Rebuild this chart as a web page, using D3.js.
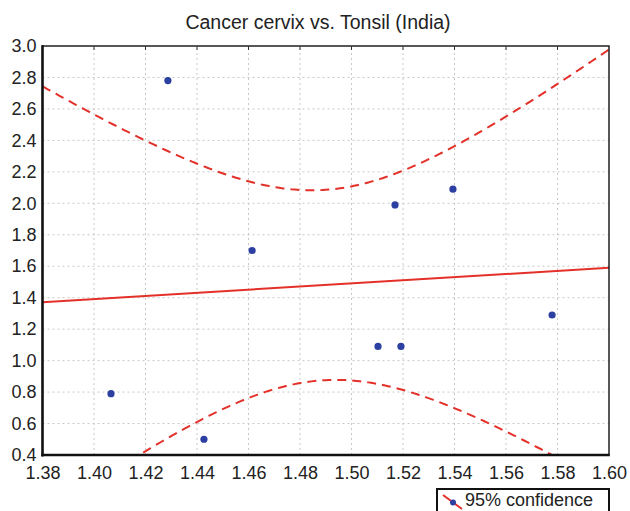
<!DOCTYPE html>
<html>
<head>
<meta charset="utf-8">
<script src="https://cdn.jsdelivr.net/npm/d3@7"></script>
<style>
  body { margin: 0; background: #fff; }
  svg { font-family: "Liberation Sans", Arial, sans-serif; }
</style>
</head>
<body>
<div id="chart"></div>
<script>
// scatter values
const tonsil = [1.4066, 1.4287, 1.4427, 1.4614, 1.5103, 1.5192, 1.5169, 1.5394, 1.5779];
const cervix = [0.79, 2.78, 0.50, 1.70, 1.09, 1.09, 1.99, 2.09, 1.29];
const xTicks = [1.38, 1.40, 1.42, 1.44, 1.46, 1.48, 1.50, 1.52, 1.54, 1.56, 1.58, 1.60];
const yTicks = [0.4, 0.6, 0.8, 1.0, 1.2, 1.4, 1.6, 1.8, 2.0, 2.2, 2.4, 2.6, 2.8, 3.0];
const tCrit = 2.365; // t(0.975, n-2 = 7)

const width = 630, height = 511;
const margin = {top: 46, right: 21, bottom: 56, left: 42.5};

const svg = d3.select('#chart').append('svg')
    .attr('width', width)
    .attr('height', height);

const x = d3.scaleLinear().domain([1.38, 1.60]).range([margin.left, width - margin.right]);
const y = d3.scaleLinear().domain([0.4, 3.0]).range([height - margin.bottom, margin.top]);

// title
svg.append('text')
    .attr('x', 318).attr('y', 29)
    .attr('text-anchor', 'middle')
    .attr('font-size', 19.5)
    .attr('fill', '#222')
    .text('Cancer cervix vs. Tonsil (India)');

// grid
const grid = svg.append('g').attr('stroke', '#c8c8c8').attr('stroke-dasharray', '2,3').attr('stroke-width', 1);
grid.selectAll('.gx').data(xTicks.slice(1, -1)).enter().append('line')
    .attr('x1', d => x(d)).attr('x2', d => x(d))
    .attr('y1', y(0.4)).attr('y2', y(3.0));
grid.selectAll('.gy').data(yTicks.slice(1, -1)).enter().append('line')
    .attr('x1', x(1.38)).attr('x2', x(1.60))
    .attr('y1', d => y(d)).attr('y2', d => y(d));

// regression + confidence band
const n = tonsil.length;
const mx = d3.mean(tonsil), my = d3.mean(cervix);
const sxx = d3.sum(tonsil, v => (v - mx) * (v - mx));
const sxy = d3.sum(tonsil, (v, i) => (v - mx) * (cervix[i] - my));
const slope = sxy / sxx, icpt = my - slope * mx;
const sse = d3.sum(tonsil, (v, i) => Math.pow(cervix[i] - (icpt + slope * v), 2));
const s = Math.sqrt(sse / (n - 2));
const xs = d3.range(0, 201).map(i => 1.38 + i * 0.22 / 200);
const band = xs.map(v => {
  const fit = icpt + slope * v;
  const h = tCrit * s * Math.sqrt(1 / n + (v - mx) * (v - mx) / sxx);
  return {x: v, lo: fit - h, hi: fit + h};
});

svg.append('clipPath').attr('id', 'plot').append('rect')
    .attr('x', x(1.38)).attr('y', y(3.0))
    .attr('width', x(1.60) - x(1.38)).attr('height', y(0.4) - y(3.0));

const plot = svg.append('g').attr('clip-path', 'url(#plot)');
const red = '#e3312a';

plot.append('line')
    .attr('x1', x(1.38)).attr('y1', y(icpt + slope * 1.38))
    .attr('x2', x(1.60)).attr('y2', y(icpt + slope * 1.60))
    .attr('stroke', red).attr('stroke-width', 2);

['hi', 'lo'].forEach(k => {
  plot.append('path')
      .datum(band)
      .attr('d', d3.line().x(d => x(d.x)).y(d => y(d[k])))
      .attr('fill', 'none')
      .attr('stroke', red)
      .attr('stroke-width', 2)
      .attr('stroke-dasharray', '9,6');
});

// points
svg.selectAll('.pt').data(tonsil).enter().append('circle')
    .attr('cx', d => x(d))
    .attr('cy', (d, i) => y(cervix[i]))
    .attr('r', 3.6)
    .attr('fill', '#2b40a0');

// frame
svg.append('rect')
    .attr('x', x(1.38)).attr('y', y(3.0))
    .attr('width', x(1.60) - x(1.38)).attr('height', y(0.4) - y(3.0))
    .attr('fill', 'none').attr('stroke', '#111').attr('stroke-width', 1.4);
svg.append('line').attr('x1', x(1.38)).attr('x2', x(1.38)).attr('y1', y(3.0) - 0.7).attr('y2', y(0.4) + 1.5)
    .attr('stroke', '#111').attr('stroke-width', 2.5);
svg.append('line').attr('x1', x(1.38) - 1.2).attr('x2', x(1.60) + 0.7).attr('y1', y(0.4)).attr('y2', y(0.4))
    .attr('stroke', '#111').attr('stroke-width', 2.5);

// axes labels
const xAxis = d3.axisBottom(x).tickValues(xTicks).tickFormat(d3.format('.2f')).tickSize(0).tickPadding(11);
const gx = svg.append('g').attr('transform', `translate(0,${y(0.4)})`).call(xAxis);
gx.select('.domain').remove();
gx.selectAll('text').attr('font-size', 18).attr('fill', '#222').attr('font-family', '"Liberation Sans", Arial, sans-serif');

const yAxis = d3.axisLeft(y).tickValues(yTicks).tickFormat(d3.format('.1f')).tickSize(0).tickPadding(6);
const gy = svg.append('g').attr('transform', `translate(${x(1.38)},0)`).call(yAxis);
gy.select('.domain').remove();
gy.selectAll('text').attr('font-size', 18).attr('fill', '#222').attr('font-family', '"Liberation Sans", Arial, sans-serif');

// small tick marks on top edge
svg.selectAll('.tt').data(xTicks.slice(1, -1)).enter().append('line')
    .attr('x1', d => x(d)).attr('x2', d => x(d))
    .attr('y1', y(3.0)).attr('y2', y(3.0) + 4)
    .attr('stroke', '#333').attr('stroke-width', 1);

// legend
const lg = svg.append('g');
lg.append('rect')
    .attr('x', 437).attr('y', 489).attr('width', 172).attr('height', 30)
    .attr('fill', '#fff').attr('stroke', '#111').attr('stroke-width', 2);
lg.append('line')
    .attr('x1', 443).attr('y1', 495).attr('x2', 462).attr('y2', 509)
    .attr('stroke', red).attr('stroke-width', 2);
lg.append('circle').attr('cx', 453).attr('cy', 502.5).attr('r', 3).attr('fill', '#2b40a0');
lg.append('text')
    .attr('x', 465).attr('y', 506)
    .attr('font-size', 18).attr('fill', '#222')
    .text('95% confidence');
</script>
</body>
</html>
